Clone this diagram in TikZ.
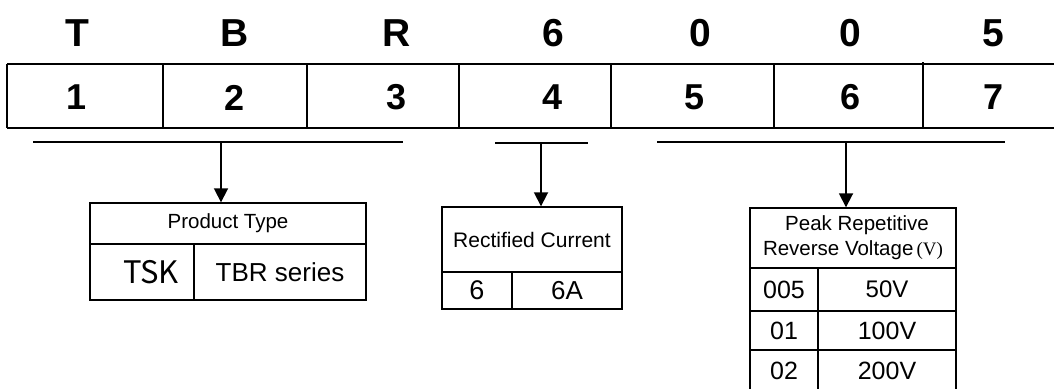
\documentclass[tikz,border=0pt]{standalone}
\usepackage{fontspec}
\setmainfont{Liberation Sans}
\newfontfamily\cjk{Noto Sans CJK SC}
\newfontfamily\serifv{Liberation Serif}
\usetikzlibrary{arrows.meta, positioning}

\begin{document}
\begin{tikzpicture}[
    x=1pt, y=-1pt,
    letter/.style={font=\fontsize{39}{42}\bfseries\selectfont, inner sep=0pt},
    digit/.style={font=\fontsize{36}{39}\bfseries\selectfont, inner sep=0pt},
    cell/.style={rectangle, draw, line width=1.4pt, inner sep=0pt, align=center},
    bar/.style={line width=1.8pt},
    pointer/.style={line width=1.8pt, -{Triangle[length=14pt, width=14pt]}}
]
\useasboundingbox (0,0) rectangle (1054,388);

% Part number
\node[letter] (lT) at (77,33.5) {T};
\node[letter] (lB) at (235,33.5) {B};
\node[letter] (lR) at (397,33.5) {R};
\node[letter] (l6) at (553,33.5) {6};
\node[letter] (l0a) at (700,33.5) {0};
\node[letter] (l0b) at (850,33.5) {0};
\node[letter] (l5) at (993,33.5) {5};

% Position table
\draw[line width=2.5pt] (7,64) -- (1054,64);
\draw[line width=2.5pt] (7,128) -- (1054,128);
\draw[line width=1.8pt] (7,64) -- (7,128);
\draw[line width=1.8pt] (163,64) -- (163,128);
\draw[line width=1.8pt] (307,64) -- (307,128);
\draw[line width=1.8pt] (459,64) -- (459,128);
\draw[line width=1.8pt] (611,64) -- (611,128);
\draw[line width=1.8pt] (774,64) -- (774,128);
\draw[line width=1.4pt] (923,62) -- (923,127);
\node[digit] (d1) at (77,97.5) {1};
\node[digit] (d2) at (235,97.5) {2};
\node[digit] (d3) at (397,97.5) {3};
\node[digit] (d4) at (553,97.5) {4};
\node[digit] (d5) at (695,97.5) {5};
\node[digit] (d6) at (850,97.5) {6};
\node[digit] (d7) at (993,97.5) {7};

% Brackets
\coordinate (typeL) at (33,142);
\coordinate (typeR) at (403,142);
\coordinate (typeM) at (221,142);
\coordinate (currL) at (495,143);
\coordinate (currR) at (588,143);
\coordinate (currM) at (541,143);
\coordinate (voltL) at (657,142);
\coordinate (voltR) at (1005,142);
\coordinate (voltM) at (846,142);
\draw[bar] (typeL) -- (typeR);
\draw[bar] (currL) -- (currR);
\draw[bar] (voltL) -- (voltR);

% Product type
\node[cell, minimum width=276pt, minimum height=41pt, font=\fontsize{20.5}{24}\selectfont] (ptype) at (228,223.5) {Product Type};
\node[cell, minimum width=104pt, minimum height=56pt, font=\cjk\fontsize{31}{34}\selectfont] (tsk) at (142,272) {\hspace*{18pt}TSK};
\node[cell, minimum width=172pt, minimum height=56pt, font=\fontsize{26}{29}\selectfont] (tbr) at (280,272) {TBR series};

% Rectified current
\node[cell, minimum width=180pt, minimum height=65pt, font=\fontsize{21}{24}\selectfont] (rcurr) at (532,239.5) {Rectified Current};
\node[cell, minimum width=70pt, minimum height=37pt, font=\fontsize{27}{30}\selectfont] (c6) at (477,290.5) {\raisebox{-3pt}{6}};
\node[cell, minimum width=110pt, minimum height=37pt, font=\fontsize{26}{29}\selectfont] (c6A) at (567,290.5) {6A};

% Peak repetitive reverse voltage
\node[cell, minimum width=206pt, minimum height=60pt, font=\fontsize{20.5}{25}\selectfont] (vrrm) at (853,238) {\hspace*{8pt}Peak Repetitive\\Reverse Voltage{\serifv\fontsize{19}{20}\selectfont\,(V)}};
\node[cell, minimum width=68pt, minimum height=43pt, font=\fontsize{25}{28}\selectfont] (v005) at (784,289.5) {\raisebox{-2pt}{005}};
\node[cell, minimum width=138pt, minimum height=43pt, font=\fontsize{24}{27}\selectfont] (v50) at (887,289.5) {50V};
\node[cell, minimum width=68pt, minimum height=39pt, font=\fontsize{25}{28}\selectfont] (v01) at (784,330.5) {\raisebox{-3pt}{01}};
\node[cell, minimum width=138pt, minimum height=39pt, font=\fontsize{25}{28}\selectfont] (v100) at (887,330.5) {100V};
\node[cell, minimum width=68pt, minimum height=42pt, font=\fontsize{25}{28}\selectfont] (v02) at (784,371) {02};
\node[cell, minimum width=138pt, minimum height=42pt, font=\fontsize{25}{28}\selectfont] (v200) at (887,371) {200V};

% Arrows
\draw[pointer] (typeM) -- (typeM |- ptype.north);
\draw[pointer] (currM) -- (currM |- rcurr.north);
\draw[pointer] (voltM) -- (voltM |- vrrm.north);

\end{tikzpicture}
\end{document}
